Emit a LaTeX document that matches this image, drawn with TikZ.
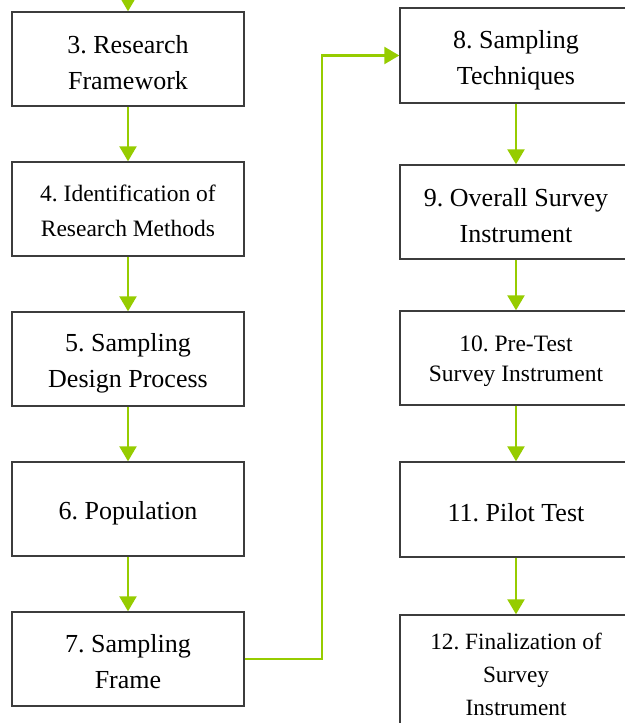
\documentclass[tikz,border=0pt]{standalone}
\usepackage{fontspec}
\setmainfont{Liberation Serif}
\usetikzlibrary{arrows.meta}
\definecolor{lime}{RGB}{150,204,0}
\definecolor{edge}{RGB}{60,60,60}
\tikzset{
  stepbox/.style={draw=edge, line width=1.4pt, rectangle, inner sep=0pt,
    minimum width=232pt},
  lab/.style={align=center, inner sep=0pt, font=\frenchspacing\fontsize{26}{36}\selectfont},
  smalllab/.style={lab, font=\frenchspacing\fontsize{23.5}{35}\selectfont},
  flow/.style={draw=lime, line width=2.4pt, -{Triangle[width=17pt,length=15pt]}}
}
\begin{document}
\begin{tikzpicture}[x=1pt,y=-1pt]
\useasboundingbox (0,0) rectangle (624,723);
% left column
\node[stepbox, minimum height=94pt] (b3) at (128,59) {};
\node[lab] (t3) at (128,62.5) {3. Research\\Framework};
\node[stepbox, minimum height=94pt] (b4) at (128,209) {};
\node[smalllab] (t4) at (128,211) {4. Identification of\\Research Methods};
\node[stepbox, minimum height=94pt] (b5) at (128,359) {};
\node[lab] (t5) at (128,363) {5. Sampling\\Design Process};
\node[stepbox, minimum height=94pt] (b6) at (128,509) {};
\node[lab] (t6) at (128,513) {6. Population};
\node[stepbox, minimum height=94pt] (b7) at (128,659) {};
\node[lab] (t7) at (128,662) {7. Sampling\\Frame};
% right column
\node[stepbox, minimum height=95pt] (b8) at (516,55.5) {};
\node[lab] (t8) at (516,60.5) {8. Sampling\\Techniques};
\node[stepbox, minimum height=94pt] (b9) at (516,212) {};
\node[lab] (t9) at (516,215.5) {9. Overall Survey\\Instrument};
\node[stepbox, minimum height=94pt] (b10) at (516,358) {};
\node[smalllab, font=\frenchspacing\fontsize{23.5}{30}\selectfont] (t10) at (516,361.5) {10. Pre-Test\\Survey Instrument};
\node[stepbox, minimum height=95pt] (b11) at (516,509.5) {};
\node[lab] (t11) at (516,512.5) {11. Pilot Test};
\node[stepbox, minimum height=118pt] (b12) at (516,674) {};
\node[smalllab, font=\frenchspacing\fontsize{23.3}{33}\selectfont] (t12) at (516,674.5) {12. Finalization of\\Survey\\Instrument};
% connectors
\coordinate (top) at (128,-20);
\draw[flow] (top) -- (b3.north);
\draw[flow] (b3) -- (b4);
\draw[flow] (b4) -- (b5);
\draw[flow] (b5) -- (b6);
\draw[flow] (b6) -- (b7);
\coordinate (c1) at (322,659);
\coordinate (c2) at (322,55.5);
\draw[flow] (b7.east) -- (c1) -- (c2) -- (b8.west);
\draw[flow] (b8) -- (b9);
\draw[flow] (b9) -- (b10);
\draw[flow] (b10) -- (b11);
\draw[flow] (b11) -- (b12);
\end{tikzpicture}
\end{document}
